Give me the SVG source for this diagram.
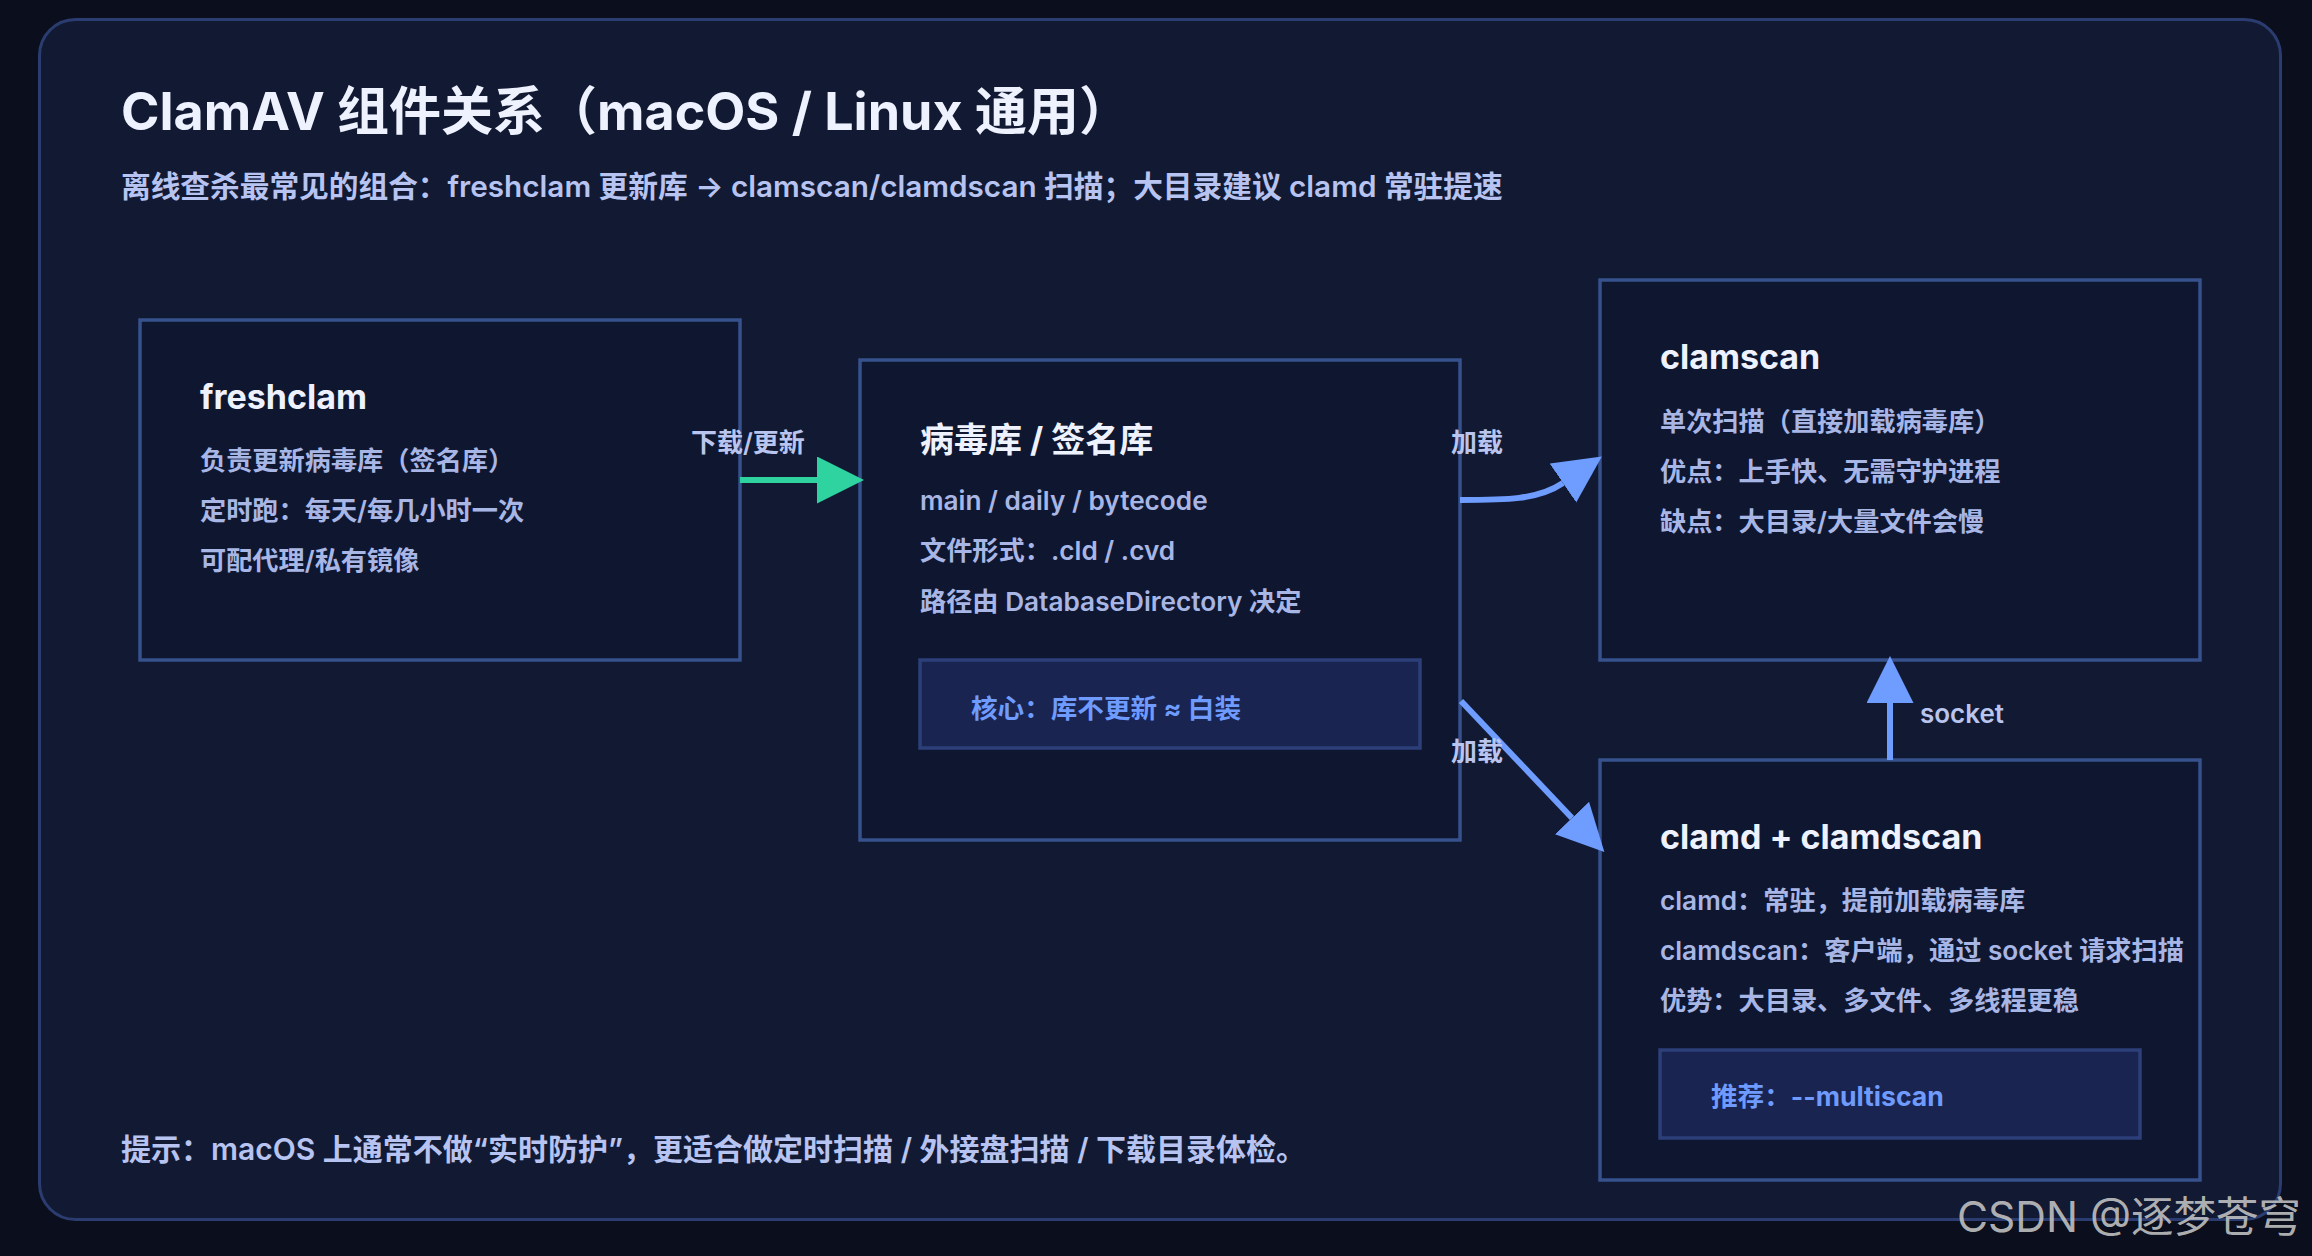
<svg xmlns="http://www.w3.org/2000/svg" width="2312" height="1256" viewBox="0 0 2312 1256">
  <defs>
    <style>
      text { font-family: Inter, "Noto Sans CJK SC", "Noto Sans", sans-serif; }
      .h1 { font-size: 52px; font-weight: 700; fill: #eef2ff; }
      .sub { font-size: 29.7px; font-weight: 600; fill: #b7c3f0; }
      .foot { font-size: 30px; font-weight: 600; fill: #b7c3f0; }
      .node { fill: #0f1730; stroke: #36518c; stroke-width: 3.5; }
      .title { font-size: 34px; font-weight: 700; fill: #eef2ff; }
      .body { font-size: 26.2px; font-weight: 600; fill: #a8b6e6; }
      .hl { fill: #192550; stroke: #2c3f78; stroke-width: 3.5; }
      .hltext { font-size: 26.6px; font-weight: 700; fill: #6f9bff; }
      .elabel { font-size: 26px; font-weight: 600; fill: #b9c5ee; }
      .edge { fill: none; stroke-width: 6; }
      .blue { stroke: #6f9cff; }
      .green { stroke: #2fd3a0; }
    </style>
    <marker id="arrowBlue" markerUnits="userSpaceOnUse" markerWidth="48" markerHeight="48" refX="0" refY="23.5" orient="auto" viewBox="0 0 48 48">
      <path d="M0,0 L47,23.5 L0,47 Z" fill="#6f9cff"/>
    </marker>
    <marker id="arrowGreen" markerUnits="userSpaceOnUse" markerWidth="48" markerHeight="48" refX="0" refY="23.5" orient="auto" viewBox="0 0 48 48">
      <path d="M0,0 L47,23.5 L0,47 Z" fill="#2fd3a0"/>
    </marker>
  </defs>

  <rect x="0" y="0" width="2312" height="1256" fill="#0b0f1d"/>
  <rect x="39.5" y="19.5" width="2241" height="1200" rx="36" fill="#121a33" stroke="#2b3c70" stroke-width="3"/>

  <text class="h1" x="121" y="130">ClamAV 组件关系（macOS / Linux 通用）</text>
  <text class="sub" x="121" y="197">离线查杀最常见的组合：freshclam 更新库 → clamscan/clamdscan 扫描；大目录建议 clamd 常驻提速</text>

  <g id="node-freshclam">
    <rect class="node" x="140" y="320" width="600" height="340"/>
    <text class="title" x="200" y="409">freshclam</text>
    <text class="body" x="200" y="470">负责更新病毒库（签名库）</text>
    <text class="body" x="200" y="520">定时跑：每天/每几小时一次</text>
    <text class="body" x="200" y="570">可配代理/私有镜像</text>
  </g>

  <g id="node-db">
    <rect class="node" x="860" y="360" width="600" height="480"/>
    <text class="title" x="920" y="452">病毒库 / 签名库</text>
    <text class="body" x="920" y="510">main / daily / bytecode</text>
    <text class="body" x="920" y="560">文件形式：.cld / .cvd</text>
    <text class="body" x="920" y="611">路径由 DatabaseDirectory 决定</text>
    <rect class="hl" x="920" y="660" width="500" height="88"/>
    <text class="hltext" x="971" y="718">核心：库不更新 ≈ 白装</text>
  </g>

  <g id="node-clamscan">
    <rect class="node" x="1600" y="280" width="600" height="380"/>
    <text class="title" x="1660" y="369">clamscan</text>
    <text class="body" x="1660" y="431">单次扫描（直接加载病毒库）</text>
    <text class="body" x="1660" y="481">优点：上手快、无需守护进程</text>
    <text class="body" x="1660" y="531">缺点：大目录/大量文件会慢</text>
  </g>

  <g id="node-clamd">
    <rect class="node" x="1600" y="760" width="600" height="420"/>
    <text class="title" x="1660" y="849">clamd + clamdscan</text>
    <text class="body" x="1660" y="910">clamd：常驻，提前加载病毒库</text>
    <text class="body" x="1660" y="960">clamdscan：客户端，通过 socket 请求扫描</text>
    <text class="body" x="1660" y="1010">优势：大目录、多文件、多线程更稳</text>
    <rect class="hl" x="1660" y="1050" width="480" height="88"/>
    <text class="hltext" x="1711" y="1106">推荐：--multiscan</text>
  </g>

  <g id="connectors">
    <path class="edge green" d="M740,480 H817" marker-end="url(#arrowGreen)"/>
    <path class="edge blue" d="M1460,500 C1505,500 1538,500 1563,483" marker-end="url(#arrowBlue)"/>
    <path class="edge blue" d="M1461,701 L1572,818" marker-end="url(#arrowBlue)"/>
    <path class="edge blue" d="M1890,760 V703" marker-end="url(#arrowBlue)"/>
    <text class="elabel" x="691" y="452">下载/更新</text>
    <text class="elabel" x="1451" y="452">加载</text>
    <text class="elabel" x="1451" y="761">加载</text>
    <text class="elabel" x="1920" y="723">socket</text>
  </g>

  <text class="foot" x="121" y="1160">提示：macOS 上通常不做“实时防护”，更适合做定时扫描 / 外接盘扫描 / 下载目录体检。</text>

  <text x="1957" y="1232" font-family="'Liberation Sans', 'Noto Sans CJK SC', sans-serif" font-size="42.5" fill="#c4c4c4" fill-opacity="0.9">CSDN @逐梦苍穹</text>
</svg>
